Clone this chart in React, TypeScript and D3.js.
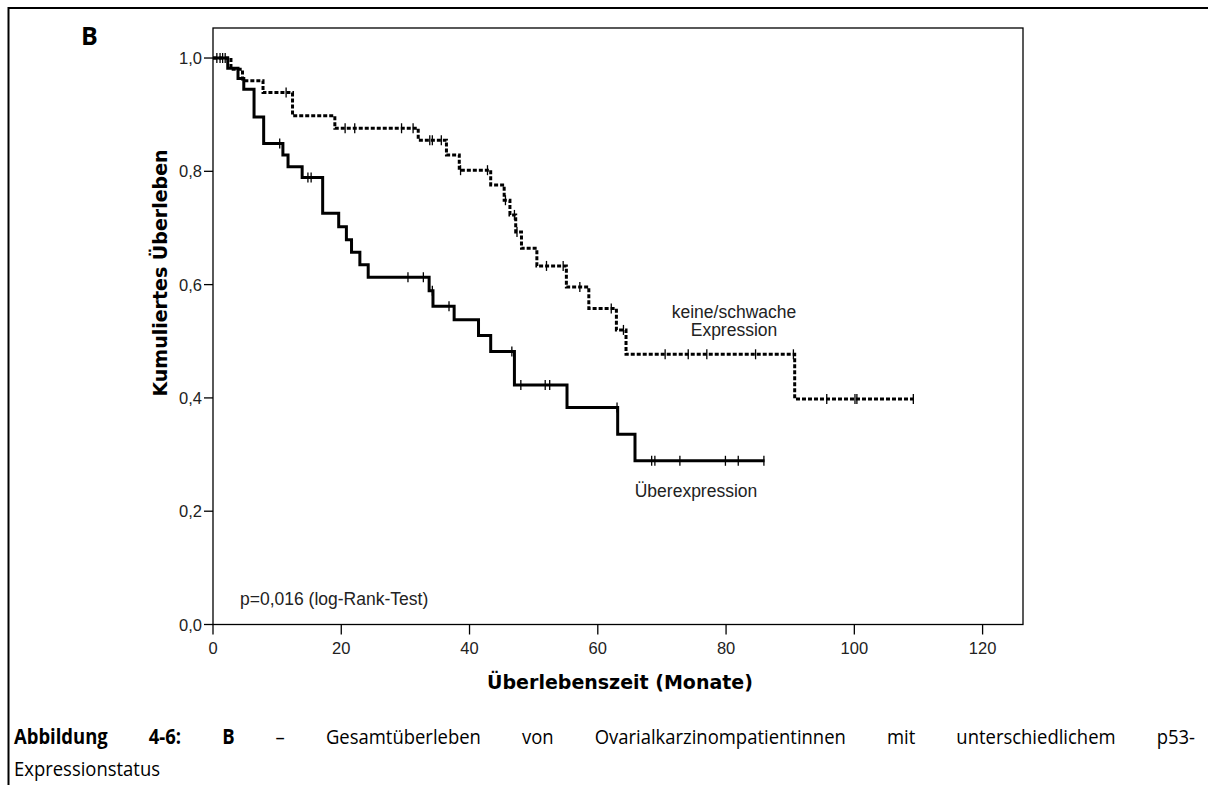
import { useEffect, useRef } from 'react'
import * as d3 from 'd3'

const WIDTH = 1208
const HEIGHT = 785
const PLOT = { left: 213, right: 1023, top: 28, bottom: 624.5 }

const xTicks = [0, 20, 40, 60, 80, 100, 120]
const yTicks = [0, 0.2, 0.4, 0.6, 0.8, 1.0]

// Überexpression (solid)
const overTimes = [0, 2.3, 3.9, 4.8, 6.4, 7.9, 10.9, 11.7, 13.9, 17.1, 19.6, 20.8, 21.6, 22.9, 24.2, 33.7, 34.3, 37.6, 41.4, 43.3, 47.0, 55.2, 63.1, 65.8]
const overSurvival = [1, 0.982, 0.964, 0.945, 0.896, 0.849, 0.829, 0.808, 0.789, 0.726, 0.702, 0.679, 0.657, 0.635, 0.613, 0.589, 0.562, 0.538, 0.51, 0.482, 0.423, 0.383, 0.336, 0.289]
const overEnd = 86
const overCensored = [0.6, 1.1, 1.5, 1.9, 10.4, 14.8, 15.3, 30.4, 32.8, 34.2, 36.8, 46.6, 48.0, 51.8, 52.5, 63.0, 68.4, 68.9, 72.8, 79.9, 81.9, 85.9]

// keine/schwache Expression (dotted)
const lowTimes = [0, 2.8, 4.6, 7.8, 12.4, 19.0, 32.0, 36.4, 38.4, 43.3, 45.4, 46.3, 47.2, 48.1, 50.5, 55.1, 58.6, 62.9, 64.4, 90.7]
const lowSurvival = [1, 0.98, 0.96, 0.939, 0.898, 0.876, 0.855, 0.829, 0.802, 0.776, 0.749, 0.723, 0.693, 0.664, 0.633, 0.596, 0.558, 0.52, 0.477, 0.398]
const lowEnd = 109.2
const lowCensored = [11.4, 20.6, 22.1, 29.4, 31.2, 33.8, 34.2, 35.6, 38.6, 42.8, 45.6, 47.0, 47.4, 52.0, 54.6, 57.2, 62.1, 64.0, 70.5, 74.1, 77.0, 84.6, 90.5, 95.7, 100.1, 100.4, 109.2]

const captionWords = [
  { text: 'Abbildung', bold: true },
  { text: '4-6:', bold: true },
  { text: 'B', bold: true },
  { text: '–', bold: false },
  { text: 'Gesamtüberleben', bold: false },
  { text: 'von', bold: false },
  { text: 'Ovarialkarzinompatientinnen', bold: false },
  { text: 'mit', bold: false },
  { text: 'unterschiedlichem', bold: false },
  { text: 'p53-', bold: false },
]

const SANS = '"Liberation Sans", Arial, sans-serif'
const BOLD = '"DejaVu Sans", Verdana, sans-serif'
const CAPTION = '"Open Sans", sans-serif'

function survivalAt(times, values, t) {
  let s = values[0]
  for (let i = 0; i < times.length; i++) {
    if (times[i] <= t) s = values[i]
  }
  return s
}

export default function App() {
  const svgRef = useRef(null)

  useEffect(() => {
    const svg = d3.select(svgRef.current)
    svg.selectAll('*').remove()

    const x = d3.scaleLinear().domain([0, 126.3]).range([PLOT.left, PLOT.right])
    const y = d3.scaleLinear().domain([0, 1.053]).range([PLOT.bottom, PLOT.top])

    // page frame
    svg.append('line').attr('x1', 8).attr('x2', WIDTH).attr('y1', 8).attr('y2', 8)
      .attr('stroke', '#000').attr('stroke-width', 2)
    svg.append('line').attr('x1', 8.5).attr('x2', 8.5).attr('y1', 7).attr('y2', HEIGHT)
      .attr('stroke', '#000').attr('stroke-width', 2)

    svg.append('text').attr('x', 81).attr('y', 45)
      .attr('font-family', CAPTION).attr('font-weight', 700).attr('font-size', 25)
      .text('B')

    // plot frame
    svg.append('rect')
      .attr('x', PLOT.left).attr('y', PLOT.top)
      .attr('width', PLOT.right - PLOT.left).attr('height', PLOT.bottom - PLOT.top)
      .attr('fill', 'none').attr('stroke', '#000').attr('stroke-width', 1.3)

    const yAxis = svg.append('g')
    yAxis.selectAll('line').data(yTicks).join('line')
      .attr('x1', PLOT.left - 9).attr('x2', PLOT.left)
      .attr('y1', (d) => y(d)).attr('y2', (d) => y(d))
      .attr('stroke', '#000').attr('stroke-width', 1.3)
    yAxis.selectAll('text').data(yTicks).join('text')
      .attr('x', PLOT.left - 11).attr('y', (d) => y(d) + 6)
      .attr('text-anchor', 'end')
      .attr('font-family', SANS).attr('font-size', 16.5).attr('fill', '#222')
      .text((d) => d.toFixed(1).replace('.', ','))

    const xAxis = svg.append('g')
    xAxis.selectAll('line').data(xTicks).join('line')
      .attr('x1', (d) => x(d)).attr('x2', (d) => x(d))
      .attr('y1', PLOT.bottom).attr('y2', PLOT.bottom + 10)
      .attr('stroke', '#000').attr('stroke-width', 1.3)
    xAxis.selectAll('text').data(xTicks).join('text')
      .attr('x', (d) => x(d)).attr('y', PLOT.bottom + 29)
      .attr('text-anchor', 'middle')
      .attr('font-family', SANS).attr('font-size', 16.5).attr('fill', '#222')
      .text((d) => d)

    const line = d3.line()
      .x((d) => x(d[0]))
      .y((d) => y(d[1]))
      .curve(d3.curveStepAfter)

    const overPoints = overTimes.map((t, i) => [t, overSurvival[i]])
    overPoints.push([overEnd, overSurvival[overSurvival.length - 1]])
    const lowPoints = lowTimes.map((t, i) => [t, lowSurvival[i]])
    lowPoints.push([lowEnd, lowSurvival[lowSurvival.length - 1]])

    svg.append('path').datum(lowPoints)
      .attr('d', line).attr('fill', 'none')
      .attr('stroke', '#000').attr('stroke-width', 3).attr('stroke-dasharray', '4 2')

    svg.append('path').datum(overPoints)
      .attr('d', line).attr('fill', 'none')
      .attr('stroke', '#000').attr('stroke-width', 3)

    const censorGroup = svg.append('g').attr('stroke', '#000').attr('stroke-width', 1.3)
    censorGroup.selectAll('line.over').data(overCensored).join('line')
      .attr('class', 'over')
      .attr('x1', (t) => x(t)).attr('x2', (t) => x(t))
      .attr('y1', (t) => y(survivalAt(overTimes, overSurvival, t)) - 5)
      .attr('y2', (t) => y(survivalAt(overTimes, overSurvival, t)) + 5)
    censorGroup.selectAll('line.low').data(lowCensored).join('line')
      .attr('class', 'low')
      .attr('x1', (t) => x(t)).attr('x2', (t) => x(t))
      .attr('y1', (t) => y(survivalAt(lowTimes, lowSurvival, t)) - 5)
      .attr('y2', (t) => y(survivalAt(lowTimes, lowSurvival, t)) + 5)

    // annotations
    const note = svg.append('g')
      .attr('font-family', SANS).attr('font-size', 17.5).attr('fill', '#222')
    note.append('text').attr('x', 734).attr('y', 318).attr('text-anchor', 'middle').text('keine/schwache')
    note.append('text').attr('x', 734).attr('y', 336).attr('text-anchor', 'middle').text('Expression')
    note.append('text').attr('x', 696).attr('y', 497).attr('text-anchor', 'middle').text('Überexpression')
    note.append('text').attr('x', 240).attr('y', 605).text('p=0,016 (log-Rank-Test)')

    // axis titles
    svg.append('text')
      .attr('x', 620).attr('y', 689)
      .attr('text-anchor', 'middle')
      .attr('font-family', BOLD).attr('font-weight', 700).attr('font-size', 19)
      .text('Überlebenszeit (Monate)')
    svg.append('text')
      .attr('transform', 'translate(167,273) rotate(-90)')
      .attr('text-anchor', 'middle')
      .attr('font-family', BOLD).attr('font-weight', 700).attr('font-size', 19)
      .text('Kumuliertes Überleben')

    // caption, justified first line
    const scaleX = 0.9
    const cap1 = svg.append('g').attr('transform', `translate(14,744) scale(${scaleX},1)`)
      .attr('font-family', CAPTION).attr('font-size', 20.5).attr('fill', '#000')
    const nodes = cap1.selectAll('text').data(captionWords).join('text')
      .attr('font-weight', (d) => (d.bold ? 700 : 400))
      .text((d) => d.text)
    const widths = nodes.nodes().map((n) => n.getComputedTextLength())
    const available = (1195 - 14) / scaleX
    const gap = (available - d3.sum(widths)) / (captionWords.length - 1)
    let cursor = 0
    nodes.attr('x', (_, i) => {
      const pos = cursor
      cursor += widths[i] + gap
      return pos
    })

    svg.append('g').attr('transform', `translate(14,776) scale(${scaleX},1)`)
      .append('text')
      .attr('font-family', CAPTION).attr('font-size', 20.5).attr('fill', '#000')
      .text('Expressionstatus')
  }, [])

  return (
    <svg
      ref={svgRef}
      width={WIDTH}
      height={HEIGHT}
      viewBox={`0 0 ${WIDTH} ${HEIGHT}`}
      style={{ position: 'absolute', left: 0, top: 0, background: '#fff' }}
    />
  )
}
